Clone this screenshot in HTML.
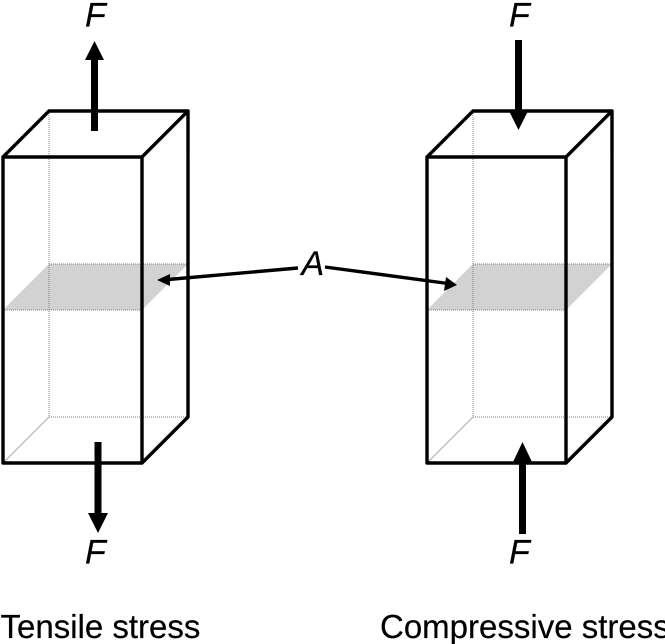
<!DOCTYPE html>
<html><head><meta charset="utf-8"><style>
html,body{margin:0;padding:0;background:#fff;overflow:hidden}
svg{display:block}
text{font-family:"Liberation Sans",Arial,sans-serif;font-size:33px;fill:#000;stroke:#000;stroke-width:.2}
.i{font-style:italic;font-size:34px}
</style></head><body>
<svg width="665" height="644" viewBox="0 0 665 644" xmlns="http://www.w3.org/2000/svg">
<polygon points="3,310 49,264 188,264 142,310" fill="#d2d2d2"/>
<polygon points="427,310 473,264 612,264 566,310" fill="#d2d2d2"/>
<g fill="none" stroke="#808080" stroke-width="1" stroke-dasharray="1 1">
<path d="M49 111V417H188M3 310H142M49 264H188"/>
<path d="M473 111V417H612M427 310H566M473 264H612"/>
</g>
<path d="M49 417L3 463M473 417L427 463" fill="none" stroke="#a8a8a8" stroke-width="1"/>
<g fill="none" stroke="#000" stroke-width="3.400" stroke-linejoin="round">
<path d="M3 157H142V463H3ZM3 157L49 111H188L142 157M188 111V417L142 463"/>
<path d="M427 157H566V463H427ZM427 157L473 111H612L566 157M612 111V417L566 463"/>
</g>
<g fill="#000">
<rect x="91" y="58" width="7" height="73"/><polygon points="94.500,41 104,60 85,60"/>
<rect x="94.500" y="442" width="7" height="73"/><polygon points="98,533 108,513 88,513"/>
<rect x="515" y="40" width="7" height="73"/><polygon points="518.500,130 509,111 528,111"/>
<rect x="519" y="461" width="7" height="73"/><polygon points="522.500,442 513,462 532,462"/>
<polygon points="157,280 170,274 170,286"/>
<polygon points="457,285 446,277 444,291"/>
</g>
<path d="M168 279.500L298 268M325 267L448 283.500" stroke="#000" stroke-width="3.400" fill="none"/>
<text class="i" x="85" y="26.500">F</text>
<text class="i" x="509" y="26.500">F</text>
<text class="i" x="85" y="563.500">F</text>
<text class="i" x="509" y="563.500">F</text>
<text class="i" x="301.500" y="275">A</text>
<text x="0.500" y="638">Tensile stress</text>
<text x="380" y="638">Compressive stress</text>
</svg>
</body></html>
